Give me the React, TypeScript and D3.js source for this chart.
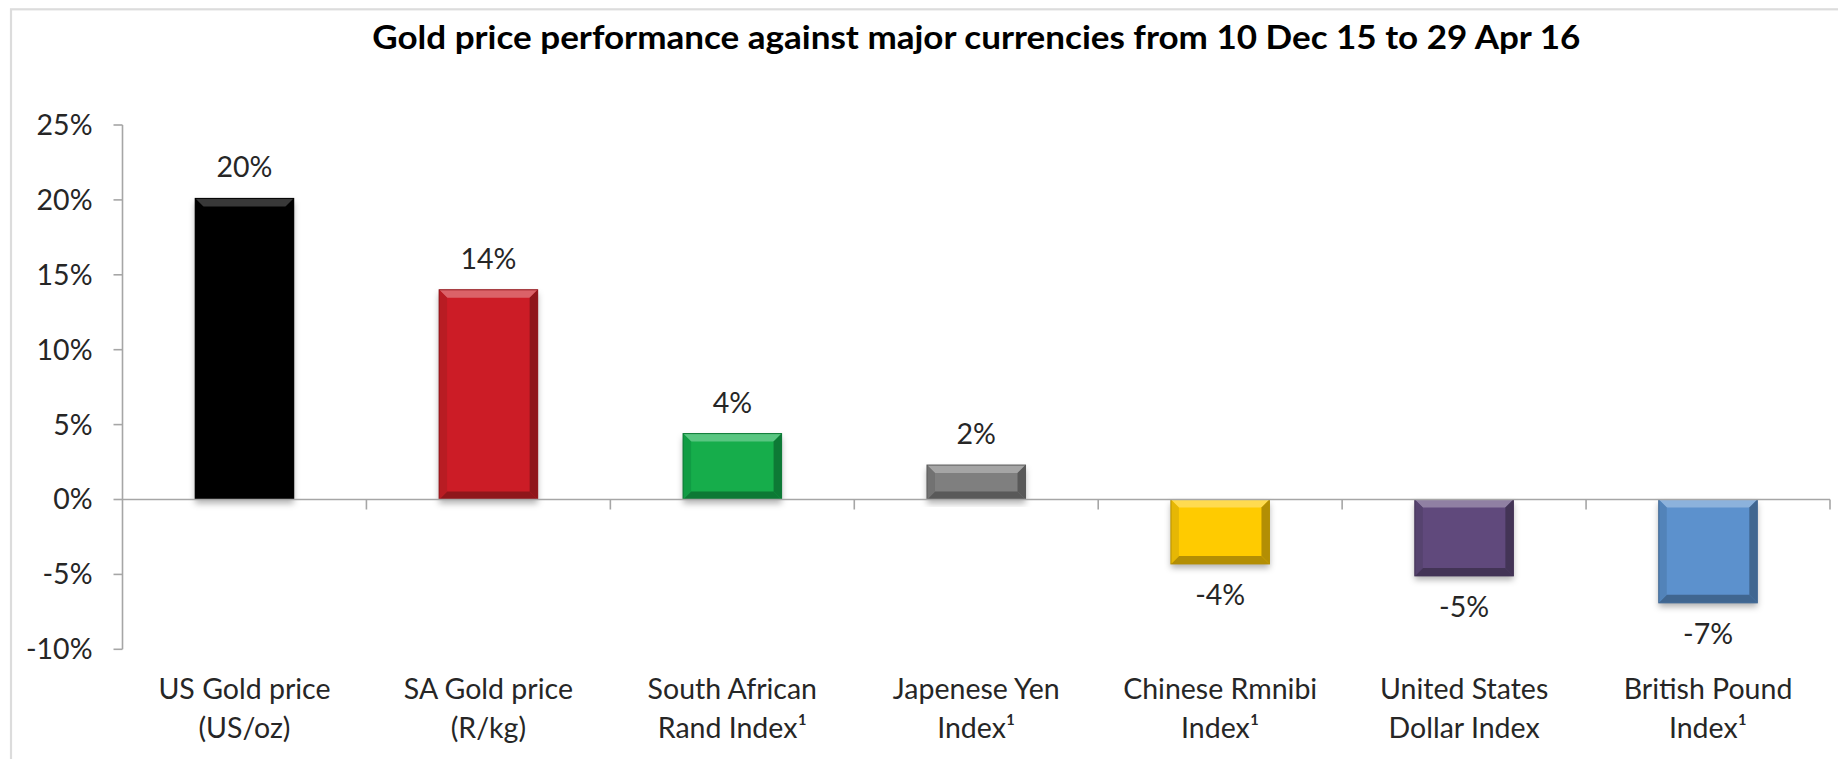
import React from "react";
import * as d3 from "d3";

const title = "Gold price performance against major currencies from 10 Dec 15 to 29 Apr 16";
const categories = [
  "US Gold price\n(US/oz)",
  "SA Gold price\n(R/kg)",
  "South African\nRand Index¹",
  "Japenese Yen\nIndex¹",
  "Chinese Rmnibi\nIndex¹",
  "United States\nDollar Index",
  "British Pound\nIndex¹",
];
const values = [20.1, 14.0, 4.4, 2.3, -4.3, -5.1, -6.9];
const barColors = ["#000000", "#cc1f27", "#12ad4b", "#7f7f7f", "#ffcb05", "#604a7b", "#5b91cd"];
const yTicks = [-10, -5, 0, 5, 10, 15, 20, 25];

const W = 1838;
const H = 759;
const FONT = "Lato, 'Open Sans', sans-serif";
const TEXT = "#262626";
const AXIS = "#a6a6a6";
const FS = 28.5;

export default function App() {
  const y = d3.scaleLinear().domain([-10, 25]).range([649.3, 125]);
  const x = d3
    .scaleBand<string>()
    .domain(categories)
    .range([122.5, 1830])
    .paddingInner(0.596)
    .paddingOuter(0.298);
  const step = x.step();
  const [r0, r1] = x.range();
  const pct = (v: number) => `${Math.round(v)}%`;

  return (
    <svg
      width={W}
      height={H}
      style={{ position: "absolute", left: 0, top: 0, background: "#fff" }}
      fontFamily={FONT}
    >
      <defs>
        <filter id="shadow" x="-20%" y="-20%" width="140%" height="140%">
          <feDropShadow dx="0" dy="4" stdDeviation="3" floodColor="#000" floodOpacity="0.3" />
        </filter>
      </defs>
      <rect x={0} y={0} width={W} height={H} fill="#fff" />
      {/* outer chart frame */}
      <rect x={11} y={9.3} width={W + 20} height={H + 20} fill="none" stroke="#dcdcdc" strokeWidth={2.2} />

      <text
        x={(r0 + r1) / 2}
        y={49}
        textAnchor="middle"
        fontSize={33}
        fontWeight={700}
        fill="#000"
        textLength={1208}
        lengthAdjust="spacingAndGlyphs"
      >
        {title}
      </text>

      {/* y axis */}
      <line x1={r0} x2={r0} y1={y(25)} y2={y(-10)} stroke={AXIS} strokeWidth={1.6} />
      {yTicks.map((t) => (
        <g key={t}>
          <line x1={r0 - 9} x2={r0} y1={y(t)} y2={y(t)} stroke={AXIS} strokeWidth={1.6} />
          <text x={92.5} y={y(t)} dy="0.35em" textAnchor="end" fontSize={FS} fill={TEXT}>
            {`${t}%`}
          </text>
        </g>
      ))}

      {/* bars */}
      {categories.map((c, i) => {
        const v = values[i];
        const x0 = x(c)!;
        const x1 = x0 + x.bandwidth();
        const yT = Math.min(y(v), y(0));
        const yB = Math.max(y(v), y(0));
        const h = yB - yT;
        const b = Math.min(8, h / 3);
        const base = barColors[i];
        const light = d3.interpolateRgb(base, "#ffffff")(base === "#000000" ? 0.22 : 0.3);
        const dark = d3.interpolateRgb(base, "#000000")(0.3);
        const side = d3.interpolateRgb(base, "#000000")(0.1);
        const pts = (a: number[][]) => a.map((p) => p.join(",")).join(" ");
        return (
          <g key={c}>
            <rect x={x0} y={yT} width={x1 - x0} height={h} fill={base} filter="url(#shadow)" />
            <polygon points={pts([[x0, yT], [x1, yT], [x1 - b, yT + b], [x0 + b, yT + b]])} fill={light} />
            <polygon points={pts([[x0, yB], [x1, yB], [x1 - b, yB - b], [x0 + b, yB - b]])} fill={dark} />
            <polygon points={pts([[x0, yT], [x0 + b, yT + b], [x0 + b, yB - b], [x0, yB]])} fill={side} />
            <polygon points={pts([[x1, yT], [x1 - b, yT + b], [x1 - b, yB - b], [x1, yB]])} fill={dark} />
            <rect x={x0} y={yT} width={x1 - x0} height={h} fill="none" stroke={dark} strokeWidth={1} />
            <text
              x={(x0 + x1) / 2}
              y={v >= 0 ? y(v) - 21 : y(v) + 41}
              textAnchor="middle"
              fontSize={FS}
              fill={TEXT}
            >
              {pct(v)}
            </text>
          </g>
        );
      })}

      {/* x axis */}
      <line x1={r0} x2={r1} y1={y(0)} y2={y(0)} stroke={AXIS} strokeWidth={1.6} />
      {categories.map((c, i) => (
        <line
          key={"t" + c}
          x1={r0 + (i + 1) * step}
          x2={r0 + (i + 1) * step}
          y1={y(0)}
          y2={y(0) + 10}
          stroke={AXIS}
          strokeWidth={1.6}
        />
      ))}
      {categories.map((c) => {
        const cx = x(c)! + x.bandwidth() / 2;
        return (
          <text key={"l" + c} x={cx} y={699} textAnchor="middle" fontSize={FS} fill={TEXT}>
            {c.split("\n").map((line, j) => (
              <tspan key={j} x={cx} dy={j === 0 ? 0 : 38.5}>
                {line}
              </tspan>
            ))}
          </text>
        );
      })}
    </svg>
  );
}
